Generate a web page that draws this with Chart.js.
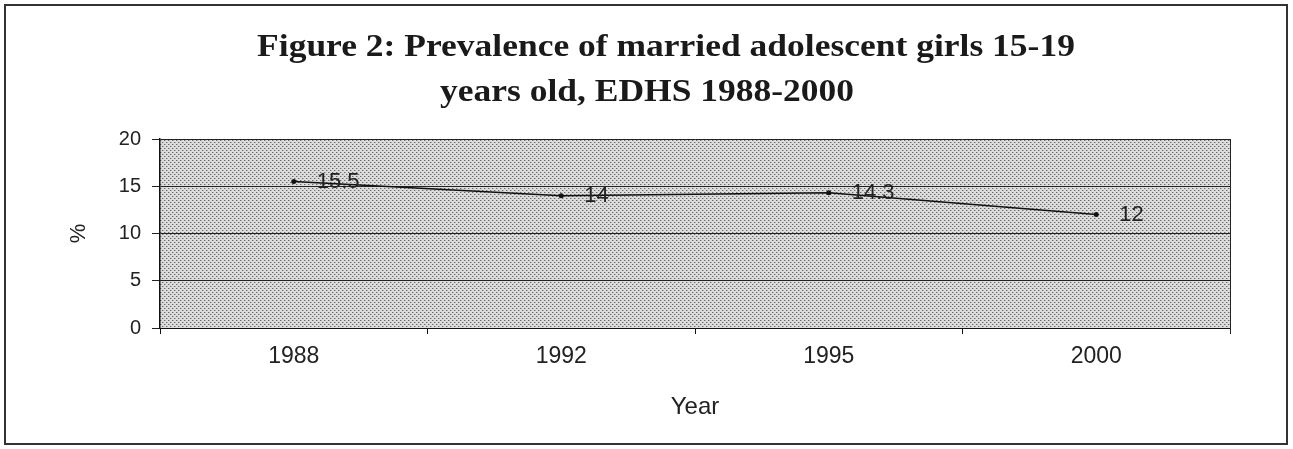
<!DOCTYPE html>
<html>
<head>
<meta charset="utf-8">
<style>
  html, body { margin: 0; padding: 0; background: #ffffff; }
  #wrap { width: 1293px; height: 449px; }
</style>
<script src="https://cdn.jsdelivr.net/npm/chart.js@4.4.1/dist/chart.umd.min.js"></script>
</head>
<body>
<div id="wrap"><canvas id="chart" width="1293" height="449"></canvas></div>
<script>
// Survey years and prevalence (%) of married girls aged 15-19
const years = ['1988', '1992', '1995', '2000'];
const prevalence = [15.5, 14, 14.3, 12];
const yTicks = [0, 5, 10, 15, 20];
const titleLines = ['Figure 2: Prevalence of married adolescent girls 15-19', 'years old, EDHS 1988-2000'];
const xTitle = 'Year';
const yTitle = '%';

// Dotted grey fill for the plotting area
function makeDotPattern(ctx) {
  const tile = document.createElement('canvas');
  tile.width = 4; tile.height = 4;
  const t = tile.getContext('2d');
  t.fillStyle = '#dcdcdc';
  t.fillRect(0, 0, 4, 4);
  t.fillStyle = '#6a6a6a';
  t.fillRect(0, 0, 1, 1);
  t.fillRect(2, 2, 1, 1);
  t.fillStyle = '#b0b0b0';
  t.fillRect(1, 0, 1, 1);
  t.fillRect(3, 2, 1, 1);
  return ctx.createPattern(tile, 'repeat');
}

const plotBackground = {
  id: 'plotBackground',
  beforeDraw(chart) {
    const { ctx, chartArea: a } = chart;
    ctx.save();
    ctx.fillStyle = makeDotPattern(ctx);
    ctx.fillRect(a.left, a.top, a.right - a.left, a.bottom - a.top);
    ctx.restore();
  },
  afterDraw(chart) {
    const { ctx, chartArea: a } = chart;
    ctx.save();
    // right-hand edge of the plot area
    ctx.strokeStyle = '#222';
    ctx.lineWidth = 1;
    ctx.beginPath();
    ctx.moveTo(a.right + 0.5, a.top);
    ctx.lineTo(a.right + 0.5, a.bottom + 5);
    ctx.stroke();
    // outer frame
    ctx.strokeStyle = '#333';
    ctx.lineWidth = 2;
    ctx.strokeRect(5, 5, 1282, 439);
    // heading, set slightly wide
    ctx.fillStyle = '#1a1a1a';
    ctx.font = 'bold 31px "Liberation Serif", "Times New Roman", serif';
    ctx.textAlign = 'center';
    ctx.textBaseline = 'alphabetic';
    [[666, 56], [647, 101]].forEach(([cx, by], i) => {
      ctx.save();
      ctx.translate(cx, by);
      ctx.scale(1.145, 1);
      ctx.fillText(titleLines[i], 0, 0);
      ctx.restore();
    });
    ctx.restore();
  }
};

// Value written to the right of each point
const pointLabels = {
  id: 'pointLabels',
  afterDatasetsDraw(chart) {
    const { ctx } = chart;
    const meta = chart.getDatasetMeta(0);
    ctx.save();
    ctx.fillStyle = '#222';
    ctx.font = '22px "Liberation Sans", Arial, sans-serif';
    ctx.textAlign = 'left';
    ctx.textBaseline = 'middle';
    meta.data.forEach((pt, i) => {
      ctx.fillText(String(prevalence[i]), pt.x + 23, pt.y);
    });
    ctx.restore();
  }
};

new Chart(document.getElementById('chart'), {
  type: 'line',
  data: {
    labels: years,
    datasets: [{
      data: prevalence,
      borderColor: '#111',
      borderWidth: 1.5,
      pointBackgroundColor: '#111',
      pointBorderColor: '#111',
      pointRadius: 2.5,
      pointBorderWidth: 0,
      tension: 0,
      fill: false
    }]
  },
  options: {
    responsive: false,
    animation: false,
    devicePixelRatio: 1,
    layout: { padding: { top: 139, right: 63, bottom: 0, left: 0 } },
    plugins: {
      legend: { display: false },
      title: { display: false },
      tooltip: { enabled: false }
    },
    scales: {
      x: {
        type: 'category',
        offset: true,
        afterFit(scale) { scale.height = 121; },
        grid: {
          display: true,
          offset: true,
          drawOnChartArea: false,
          drawTicks: true,
          tickLength: 6,
          color: '#111'
        },
        border: { display: true, color: '#111', width: 1 },
        ticks: {
          color: '#222',
          padding: 9,
          font: { family: '"Liberation Sans", Arial, sans-serif', size: 23 }
        },
        title: {
          display: true,
          text: xTitle,
          color: '#222',
          padding: { top: 0, bottom: 27 },
          font: { family: '"Liberation Sans", Arial, sans-serif', size: 24 }
        }
      },
      y: {
        min: 0,
        max: 20,
        afterFit(scale) { scale.width = 160; },
        afterBuildTicks(scale) { scale.ticks = yTicks.map(v => ({ value: v })); },
        grid: {
          color: '#222',
          lineWidth: 1,
          drawTicks: true,
          tickLength: 8
        },
        border: { display: true, color: '#111', width: 1.5 },
        ticks: {
          color: '#222',
          padding: 11,
          font: { family: '"Liberation Sans", Arial, sans-serif', size: 20 }
        },
        title: {
          display: true,
          text: yTitle,
          color: '#222',
          padding: { top: 66, bottom: 0 },
          font: { family: '"Liberation Sans", Arial, sans-serif', size: 22 }
        }
      }
    }
  },
  plugins: [plotBackground, pointLabels]
});
</script>
</body>
</html>
